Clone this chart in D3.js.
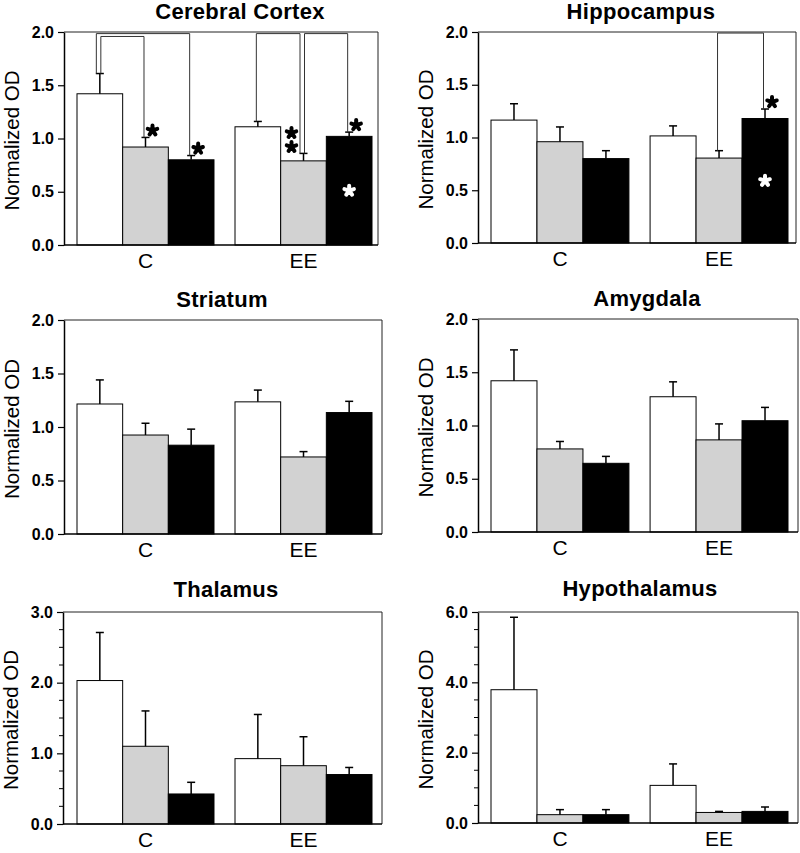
<!DOCTYPE html>
<html><head><meta charset="utf-8">
<script src="https://cdn.jsdelivr.net/npm/d3@7"></script>
<style>
body{margin:0;background:#fff}
svg{display:block}
text{font-family:"Liberation Sans", Arial, Helvetica, sans-serif;fill:#000}
</style>
</head><body>
<svg id="chart" width="800" height="853"></svg>
<script>
// ---------- DATA ----------
const groups = ["C", "EE"];
const seriesNames = ["Series 1", "Series 2", "Series 3"];
const panelTitles = ["Cerebral Cortex", "Hippocampus", "Striatum", "Amygdala", "Thalamus", "Hypothalamus"];
const yAxisLabel = "Normalized OD";

// means [group][series], sem [group][series]
const cortexMean = [[1.42, 0.92, 0.80], [1.11, 0.79, 1.02]];
const cortexSem  = [[0.19, 0.09, 0.04], [0.05, 0.07, 0.04]];
const hippoMean  = [[1.165, 0.96, 0.80], [1.015, 0.805, 1.18]];
const hippoSem   = [[0.155, 0.14, 0.075], [0.095, 0.07, 0.09]];
const striatumMean = [[1.215, 0.925, 0.83], [1.235, 0.72, 1.135]];
const striatumSem  = [[0.225, 0.11, 0.15], [0.11, 0.05, 0.105]];
const amygdalaMean = [[1.42, 0.78, 0.645], [1.27, 0.865, 1.045]];
const amygdalaSem  = [[0.29, 0.07, 0.065], [0.14, 0.15, 0.125]];
const thalamusMean = [[2.03, 1.10, 0.425], [0.925, 0.825, 0.70]];
const thalamusSem  = [[0.68, 0.50, 0.165], [0.625, 0.41, 0.10]];
const hypoMean = [[3.79, 0.237, 0.237], [1.07, 0.30, 0.33]];
const hypoSem  = [[2.06, 0.143, 0.143], [0.61, 0.03, 0.125]];

// y tick labels
const ticksHalf = [0, 0.5, 1.0, 1.5, 2.0];
const ticksThalamus = [0, 1.0, 2.0, 3.0];
const ticksHypo = [0, 2.0, 4.0, 6.0];

// significance annotations
const cortexBrackets = [
  {group: "C", from: 0, to: 2, level: 1.985},
  {group: "C", from: 0, to: 1, level: 1.958},
  {group: "EE", from: 0, to: 1, level: 1.985},
  {group: "EE", from: 1, to: 2, level: 1.985}
];
const cortexStars = [
  {group: "C", series: 1, place: "above", color: "#000"},
  {group: "C", series: 2, place: "above", color: "#000"},
  {group: "EE", series: 1, place: "left", color: "#000"},
  {group: "EE", series: 2, place: "above", color: "#000"},
  {group: "EE", series: 2, place: "inside", color: "#fff"}
];
const hippoBrackets = [{group: "EE", from: 1, to: 2, level: 1.99}];
const hippoStars = [
  {group: "EE", series: 2, place: "above", color: "#000"},
  {group: "EE", series: 2, place: "inside", color: "#fff"}
];

// ---------- STYLE / LAYOUT ----------
const seriesFill = ["#ffffff", "#d2d2d2", "#000000"];
const layouts = [
  {x0: 64, x1: 378, y0: 32, y1: 245, bx0: 77, bx1: 372, tx: 240, ty: 19},
  {x0: 478, x1: 796, y0: 32, y1: 243, bx0: 491, bx1: 788, tx: 641, ty: 19},
  {x0: 64, x1: 382, y0: 320, y1: 534, bx0: 77, bx1: 372, tx: 222, ty: 307},
  {x0: 478, x1: 798, y0: 319, y1: 532, bx0: 491, bx1: 788, tx: 647, ty: 306},
  {x0: 63, x1: 382, y0: 612, y1: 824, bx0: 77, bx1: 372, tx: 226, ty: 597},
  {x0: 478, x1: 798, y0: 612, y1: 823, bx0: 491, bx1: 788, tx: 640, ty: 596}
];

const panels = [
  {mean: cortexMean, sem: cortexSem, max: 2, ticks: ticksHalf, minor: null, brackets: cortexBrackets, stars: cortexStars},
  {mean: hippoMean, sem: hippoSem, max: 2, ticks: ticksHalf, minor: null, brackets: hippoBrackets, stars: hippoStars},
  {mean: striatumMean, sem: striatumSem, max: 2, ticks: ticksHalf, minor: null, brackets: [], stars: []},
  {mean: amygdalaMean, sem: amygdalaSem, max: 2, ticks: ticksHalf, minor: null, brackets: [], stars: []},
  {mean: thalamusMean, sem: thalamusSem, max: 3, ticks: ticksThalamus, minor: 0.25, brackets: [], stars: []},
  {mean: hypoMean, sem: hypoSem, max: 6, ticks: ticksHypo, minor: 0.5, brackets: [], stars: []}
];

const svg = d3.select("#chart");

function asteriskPath(cx, cy, r) {
  const p = d3.path();
  for (let k = 0; k < 5; k++) {
    const a = -Math.PI / 2 + k * 2 * Math.PI / 5;
    p.moveTo(cx, cy);
    p.lineTo(cx + r * Math.cos(a), cy + r * Math.sin(a));
  }
  return p.toString();
}

panels.forEach((p, i) => {
  const L = layouts[i];
  const g = svg.append("g");
  const y = d3.scaleLinear().domain([0, p.max]).range([L.y1, L.y0]);
  const gx = d3.scaleBand().domain(groups).range([L.bx0, L.bx1]).paddingInner(0.133).paddingOuter(0);
  const sx = d3.scaleBand().domain(d3.range(seriesNames.length)).range([0, gx.bandwidth()]).padding(0);
  const cx = (grp, si) => gx(grp) + sx(si) + sx.bandwidth() / 2;

  // title
  g.append("text").attr("x", L.tx).attr("y", L.ty).attr("text-anchor", "middle")
    .style("font-size", "22px").style("font-weight", "bold").style("letter-spacing", "0.3px").text(panelTitles[i]);

  // bars
  const rows = groups.flatMap((grp, gi) => p.mean[gi].map((v, si) => ({grp, si, v, e: p.sem[gi][si]})));
  g.selectAll("rect.bar").data(rows).join("rect").attr("class", "bar")
    .attr("x", d => gx(d.grp) + sx(d.si))
    .attr("width", sx.bandwidth())
    .attr("y", d => y(d.v))
    .attr("height", d => y(0) - y(d.v))
    .attr("fill", d => seriesFill[d.si])
    .attr("stroke", "#000").attr("stroke-width", 1);

  // error bars (upper)
  const eb = g.selectAll("g.err").data(rows).join("g").attr("class", "err")
    .attr("stroke", "#000").attr("stroke-width", 1.5);
  eb.append("line").attr("x1", d => cx(d.grp, d.si)).attr("x2", d => cx(d.grp, d.si))
    .attr("y1", d => y(d.v)).attr("y2", d => y(d.v + d.e));
  eb.append("line").attr("x1", d => cx(d.grp, d.si) - 4).attr("x2", d => cx(d.grp, d.si) + 4)
    .attr("y1", d => y(d.v + d.e)).attr("y2", d => y(d.v + d.e));

  // frame top/right
  g.append("path").attr("d", `M${L.x0},${L.y0}H${L.x1}V${L.y1}`)
    .attr("fill", "none").attr("stroke", "#222").attr("stroke-width", 1);
  // bottom axis line
  g.append("line").attr("x1", L.x0).attr("x2", L.x1).attr("y1", L.y1).attr("y2", L.y1)
    .attr("stroke", "#000").attr("stroke-width", 1.5);

  // y axis
  const ya = g.append("g").attr("transform", `translate(${L.x0},0)`)
    .call(d3.axisLeft(y).tickValues(p.ticks).tickFormat(d3.format(".1f")).tickSize(6).tickSizeOuter(0).tickPadding(4));
  ya.select(".domain").attr("stroke", "#000").attr("stroke-width", 1.5);
  ya.selectAll(".tick line").attr("stroke", "#000").attr("stroke-width", 1.2);
  ya.selectAll(".tick text").style("font-size", "16px").style("font-weight", "bold")
    .attr("font-family", null);
  if (p.minor) {
    const minors = d3.range(0, p.max + 1e-9, p.minor).filter(v => !p.ticks.some(t => Math.abs(t - v) < 1e-9));
    g.selectAll("line.minor").data(minors).join("line").attr("class", "minor")
      .attr("x1", L.x0 - 4).attr("x2", L.x0).attr("y1", d => y(d)).attr("y2", d => y(d))
      .attr("stroke", "#000").attr("stroke-width", 1);
  }

  // x labels
  const xa = g.append("g").attr("transform", `translate(0,${L.y1})`)
    .call(d3.axisBottom(gx).tickSize(0).tickPadding(8));
  xa.select(".domain").remove();
  xa.selectAll(".tick text").style("font-size", "21px").attr("font-family", null);

  // y label
  g.append("text")
    .attr("transform", `translate(${L.x0 - 45},${(L.y0 + L.y1) / 2 + 2}) rotate(-90)`)
    .attr("text-anchor", "middle").style("font-size", "20.5px").text(yAxisLabel);

  // brackets
  const legCount = {};
  const legX = (grp, si) => {
    const k = grp + si;
    legCount[k] = (legCount[k] || 0) + 1;
    const used = p.brackets.filter(b => b.group === grp && (b.from === si || b.to === si)).length;
    if (used > 1) return cx(grp, si) + (legCount[k] === 1 ? -3.5 : 1);
    return cx(grp, si) - 1.5;
  };
  const val = (grp, si) => { const gi = groups.indexOf(grp); return p.mean[gi][si] + p.sem[gi][si]; };
  p.brackets.forEach(b => {
    const xa1 = legX(b.group, b.from), xb1 = legX(b.group, b.to);
    g.append("path")
      .attr("d", `M${xa1},${y(val(b.group, b.from))}V${y(b.level)}H${xb1}V${y(val(b.group, b.to))}`)
      .attr("fill", "none").attr("stroke", "#333").attr("stroke-width", 1);
  });

  // stars
  p.stars.forEach(s => {
    const gi = groups.indexOf(s.group);
    const top = y(p.mean[gi][s.series] + p.sem[gi][s.series]);
    const bx = cx(s.group, s.series);
    let pts = [];
    if (s.place === "above") pts = [[bx + 7, top - 7]];
    else if (s.place === "left") pts = [[bx - 12, top - 20.5], [bx - 12, top - 6.5]];
    else if (s.place === "inside") pts = [[bx, y(p.mean[gi][s.series] / 2)]];
    pts.forEach(([px, py]) => {
      g.append("path").attr("d", asteriskPath(px, py, 5))
        .attr("stroke", s.color).attr("stroke-width", 4).attr("stroke-linecap", "round").attr("fill", "none");
    });
  });
});
</script>
</body></html>
